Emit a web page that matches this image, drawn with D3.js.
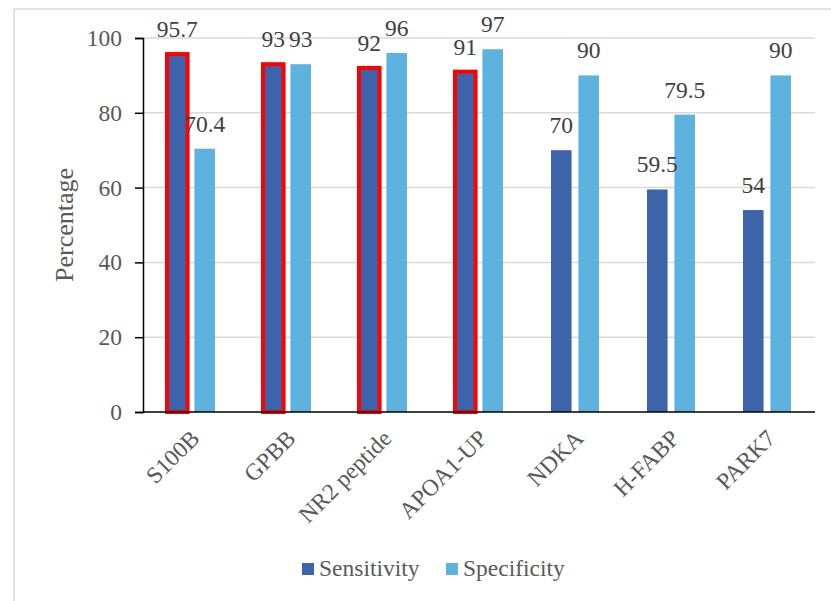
<!DOCTYPE html>
<html><head><meta charset="utf-8">
<script src="https://cdn.jsdelivr.net/npm/d3@7"></script>
<style>body{margin:0;background:#fff}svg{display:block}</style>
</head><body>
<script>
const categories = ["S100B","GPBB","NR2 peptide","APOA1-UP","NDKA","H-FABP","PARK7"];
const sensitivity = [95.7, 93, 92, 91, 70, 59.5, 54];
const specificity = [70.4, 93, 96, 97, 90, 79.5, 90];
const highlighted = ["S100B","GPBB","NR2 peptide","APOA1-UP"];
const seriesNames = ["Sensitivity","Specificity"];
const yTicks = [0,20,40,60,80,100];

const W=831,H=601;
const colors = {Sensitivity:"#3D64AA", Specificity:"#5EB3DE"};
const font = "'Liberation Serif','Times New Roman',serif";
const FS = 23.5;
const svg = d3.select("body").append("svg").attr("width",W).attr("height",H);

// frame
svg.append("rect").attr("x",14).attr("y",9).attr("width",W).attr("height",H)
  .attr("fill","#fff").attr("stroke","#D9D9D9").attr("stroke-width",1.5);

const y = d3.scaleLinear().domain([0,100]).range([412,38]);
const x0 = d3.scaleBand().domain(categories).range([143,815]).padding(0);
const x1 = d3.scaleBand().domain(seriesNames)
  .range([x0.bandwidth()/2-24, x0.bandwidth()/2+24]).paddingInner(0.25);

// gridlines
svg.append("g").selectAll("line").data(yTicks.filter(d=>d>0)).join("line")
  .attr("x1",143).attr("x2",815).attr("y1",d=>y(d)).attr("y2",d=>y(d))
  .attr("stroke","#D9D9D9").attr("stroke-width",1.5);

const rows = categories.map((c,i)=>({cat:c, vals:[
  {s:"Sensitivity", v:sensitivity[i]}, {s:"Specificity", v:specificity[i]}]}));

const g = svg.append("g");
const groups = g.selectAll("g").data(rows).join("g")
  .attr("transform", d=>`translate(${x0(d.cat)},0)`);
groups.selectAll("rect").data(d=>d.vals.map(v=>({...v,cat:d.cat}))).join("rect")
  .attr("x",d=>x1(d.s)).attr("width",x1.bandwidth())
  .attr("y",d=>y(d.v)).attr("height",d=>y(0)-y(d.v))
  .attr("fill",d=>colors[d.s])
  .attr("stroke",d=>(d.s==="Sensitivity" && highlighted.includes(d.cat))?"#FF0000":"none")
  .attr("stroke-width",4);
groups.selectAll("text").data(d=>d.vals.map(v=>({...v,cat:d.cat}))).join("text")
  .attr("x",d=>x1(d.s)+x1.bandwidth()/2).attr("y",d=>y(d.v)-17)
  .attr("text-anchor","middle").attr("font-family",font).attr("font-size",FS)
  .attr("fill","#404040").text(d=>d.v);

// y axis
const ya = svg.append("g").attr("transform","translate(143,0)")
  .call(d3.axisLeft(y).tickValues(yTicks).tickSize(8).tickPadding(13));
ya.select(".domain").attr("stroke","#000").attr("stroke-width",1.5);
ya.selectAll(".tick line").attr("stroke","#000").attr("stroke-width",1.5);
ya.selectAll(".tick text").attr("font-family",font).attr("font-size",FS).attr("fill","#595959");

// x axis line
svg.append("line").attr("x1",143).attr("x2",815).attr("y1",y(0)).attr("y2",y(0))
  .attr("stroke","#000").attr("stroke-width",1.5);

// x labels
svg.append("g").selectAll("text").data(categories).join("text")
  .attr("transform",d=>`translate(${x0(d)+x0.bandwidth()/2-2},${y(0)+16}) rotate(-45)`)
  .attr("text-anchor","end").attr("dy","0.71em")
  .attr("font-family",font).attr("font-size",FS).attr("fill","#595959").text(d=>d);

// y title
svg.append("text").attr("transform",`translate(73,${(y(0)+y(100))/2}) rotate(-90)`)
  .attr("text-anchor","middle").attr("font-family",font).attr("font-size",26)
  .attr("fill","#595959").text("Percentage");

// legend
const legX = [302, 446];
const leg = svg.append("g").selectAll("g").data(seriesNames).join("g")
  .attr("transform",(d,i)=>`translate(${legX[i]},563)`);
leg.append("rect").attr("width",12).attr("height",12).attr("fill",d=>colors[d]);
leg.append("text").attr("x",17).attr("y",13).attr("font-family",font).attr("font-size",FS)
  .attr("fill","#595959").text(d=>d);
</script>
</body></html>
